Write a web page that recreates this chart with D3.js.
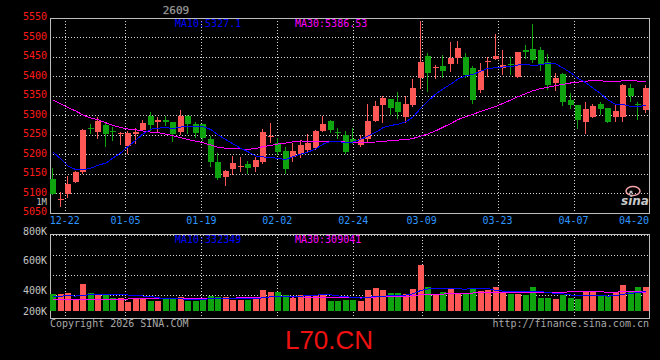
<!DOCTYPE html>
<html>
<head>
<meta charset="utf-8">
<script src="https://cdn.jsdelivr.net/npm/d3@7/dist/d3.min.js"></script>
<style>
html, body { margin: 0; padding: 0; background: #000; }
svg { display: block; }
text { font-family: "DejaVu Sans Mono", monospace; font-size: 10px; }
</style>
</head>
<body>
<div id="chart"></div>
<script>
// daily bars, 12-18 .. 04-21 (80 sessions)
const opens = [5138, 5085, 5100, 5131, 5157, 5269, 5259, 5276, 5261, 5253,
    5223, 5253, 5264, 5300, 5285, 5289, 5284, 5259, 5300, 5278,
    5278, 5241, 5182, 5144, 5164, 5170, 5177, 5169, 5182, 5248,
    5231, 5211, 5195, 5202, 5212, 5218, 5261, 5287, 5259, 5251,
    5241, 5226, 5241, 5287, 5328, 5343, 5335, 5298, 5328, 5396,
    5454, 5423, 5428, 5432, 5447, 5451, 5422, 5366, 5439, 5445,
    5422, 5433, 5400, 5469, 5471, 5469, 5439, 5385, 5406, 5340,
    5328, 5285, 5298, 5330, 5319, 5298, 5298, 5372, 5330, 5315];
const highs = [5166, 5105, 5146, 5158, 5265, 5279, 5296, 5283, 5271, 5258,
    5260, 5268, 5289, 5311, 5298, 5300, 5285, 5315, 5301, 5283,
    5280, 5248, 5204, 5160, 5198, 5194, 5184, 5195, 5266, 5281,
    5242, 5221, 5229, 5238, 5253, 5263, 5300, 5288, 5268, 5261,
    5269, 5251, 5330, 5338, 5352, 5344, 5360, 5351, 5394, 5543,
    5460, 5430, 5456, 5490, 5492, 5462, 5428, 5436, 5451, 5510,
    5469, 5451, 5463, 5481, 5535, 5476, 5458, 5411, 5409, 5358,
    5328, 5335, 5330, 5336, 5320, 5330, 5381, 5382, 5335, 5378];
const lows = [5099, 5070, 5092, 5129, 5154, 5257, 5244, 5223, 5238, 5228,
    5204, 5229, 5263, 5264, 5262, 5276, 5236, 5253, 5257, 5245,
    5238, 5172, 5137, 5123, 5150, 5158, 5153, 5158, 5179, 5234,
    5202, 5154, 5185, 5195, 5206, 5214, 5261, 5258, 5244, 5205,
    5229, 5222, 5234, 5286, 5283, 5304, 5294, 5285, 5326, 5372,
    5364, 5396, 5400, 5415, 5435, 5400, 5334, 5362, 5403, 5445,
    5406, 5406, 5400, 5447, 5439, 5417, 5370, 5366, 5328, 5321,
    5269, 5257, 5298, 5304, 5283, 5287, 5287, 5338, 5292, 5310];
const closes = [5100, 5087, 5125, 5157, 5264, 5266, 5287, 5253, 5259, 5255,
    5256, 5258, 5282, 5276, 5290, 5285, 5253, 5300, 5280, 5256,
    5244, 5182, 5141, 5158, 5179, 5172, 5167, 5187, 5258, 5249,
    5208, 5164, 5210, 5225, 5230, 5261, 5279, 5263, 5255, 5208,
    5230, 5241, 5287, 5325, 5346, 5319, 5310, 5330, 5372, 5439,
    5409, 5426, 5415, 5449, 5475, 5405, 5340, 5417, 5441, 5453,
    5430, 5431, 5463, 5464, 5443, 5430, 5379, 5398, 5335, 5328,
    5289, 5317, 5326, 5317, 5285, 5312, 5379, 5351, 5327, 5372];
const volumes = [285000, 286000, 307000, 201000, 452000, 296000, 268000, 267000, 223000, 224000,
    156000, 201000, 223000, 168000, 169000, 201000, 223000, 240000, 168000, 167000,
    223000, 251000, 240000, 241000, 184000, 185000, 184000, 201000, 352000, 313000,
    313000, 268000, 223000, 268000, 269000, 268000, 267000, 168000, 168000, 184000,
    184000, 168000, 352000, 390000, 352000, 296000, 296000, 280000, 369000, 771000,
    407000, 285000, 313000, 380000, 296000, 280000, 369000, 335000, 352000, 407000,
    323000, 280000, 281000, 268000, 407000, 213000, 223000, 201000, 268000, 213000,
    201000, 335000, 313000, 268000, 256000, 323000, 436000, 335000, 406000, 407000];

// moving averages before enough bars are in the window
const ma10Lead = [5207, 5189, 5171, 5162, 5161, 5166, 5173, 5179, 5192];
const ma30Lead = [5340, 5330, 5321, 5312, 5302, 5294, 5290, 5282, 5275, 5270,
    5266, 5264, 5261, 5258, 5257, 5253, 5249, 5244, 5239, 5235,
    5231, 5225, 5219, 5217, 5216, 5215, 5214, 5216, 5221];
const volMa10Lead = [251000, 251000, 252000, 251000, 260000, 276000, 280000, 276000, 276000];
const volMa30Lead = [189000, 189000, 190000, 189000, 190000, 191000, 190000, 192000, 200000, 201000,
    201000, 202000, 201000, 202000, 203000, 212000, 213000, 212000, 213000, 214000,
    213000, 214000, 213000, 214000, 215000, 222000, 223000, 223000, 224000];

const dateTicks = [2, 10, 20, 30, 40, 49, 59, 69, 78];
const dateLabels = ["12-22", "01-05", "01-19", "02-02", "02-24", "03-09", "03-23", "04-07", "04-20"];
const priceTicks = [5550, 5500, 5450, 5400, 5350, 5300, 5250, 5200, 5150, 5100, 5050];
const volTicks = [800000, 600000, 400000, 200000];
const priceMaLabels = ["MA10:5327.1", "MA30:5386.53"];
const volMaLabels = ["MA10:332349", "MA30:309041"];

const w = 660, h = 360;
const left = 50, right = 650;
const priceTop = 18.3, priceBottom = 213.3;
const volTop = 234, volBase = 311, volBottom = 318;

const upColor = "#ff5656", downColor = "#0fa30f";
const frameColor = "#bdbdbd", gridColor = "#d8d8d8";

const n = closes.length;
const x = d3.scaleBand().domain(d3.range(n)).range([left, right])
    .paddingInner(0.2).paddingOuter(0.1).align(0);
// date grid is laid out on n-1 steps, a hair wider than the bars
const gx = d3.scaleLinear().domain([0, n - 1]).range([left, right]);
const y = d3.scaleLinear().domain([5050, 5550]).range([priceBottom, priceTop]);
const yVol = d3.scaleLinear().domain([0, 1290000]).range([volBase, volTop]);
const yVolLabel = d3.scaleLinear().domain([400000, 800000]).range([290, 231]);

function movingAvg(values, k, lead) {
    return values.map(function (v, i) {
        if (i < k - 1) return lead[i];
        return d3.mean(values.slice(i - k + 1, i + 1));
    });
}

const ma10 = movingAvg(closes, 10, ma10Lead),
    ma30 = movingAvg(closes, 30, ma30Lead),
    volMa10 = movingAvg(volumes, 10, volMa10Lead),
    volMa30 = movingAvg(volumes, 30, volMa30Lead);

const crisp = v => Math.floor(v) + 0.5;
const bx = i => Math.round(x(i));
const isUp = i => closes[i] >= opens[i];

const svg = d3.select("#chart").append("svg")
    .attr("width", w)
    .attr("height", h)
    .style("background", "#000");

// ---- grid
const grid = svg.append("g")
    .attr("stroke", gridColor)
    .attr("stroke-dasharray", "1,2")
    .attr("shape-rendering", "crispEdges");

grid.selectAll("line.h")
    .data(priceTicks.slice(1, -1))
    .enter().append("line")
    .attr("x1", left).attr("x2", right - 1)
    .attr("y1", d => crisp(y(d))).attr("y2", d => crisp(y(d)));

grid.selectAll("line.vh")
    .data(d3.range(4))
    .enter().append("line")
    .attr("x1", left).attr("x2", right - 1)
    .attr("y1", d => volTop + 1.5 + d * 20).attr("y2", d => volTop + 1.5 + d * 20);

const gridTicks = dateTicks.filter(d => gx(d) < right - 20);
grid.selectAll("line.v")
    .data(gridTicks)
    .enter().append("line")
    .attr("x1", d => crisp(gx(d))).attr("x2", d => crisp(gx(d)))
    .attr("y1", priceTop).attr("y2", priceBottom);
grid.selectAll("line.vv")
    .data(gridTicks)
    .enter().append("line")
    .attr("x1", d => crisp(gx(d))).attr("x2", d => crisp(gx(d)))
    .attr("y1", volTop).attr("y2", volBottom);

// ---- frames
svg.append("rect")
    .attr("x", left + 0.5).attr("y", crisp(priceTop))
    .attr("width", right - left - 1).attr("height", Math.round(priceBottom - priceTop))
    .attr("fill", "none").attr("stroke", frameColor).attr("shape-rendering", "crispEdges");
svg.append("rect")
    .attr("x", left + 0.5).attr("y", volTop + 0.5)
    .attr("width", right - left - 1).attr("height", volBottom - volTop)
    .attr("fill", "none").attr("stroke", frameColor).attr("shape-rendering", "crispEdges");

// ---- candles
const candles = svg.append("g").attr("shape-rendering", "crispEdges");
const bars = candles.selectAll("g")
    .data(d3.range(n))
    .enter().append("g")
    .attr("fill", i => isUp(i) ? upColor : downColor)
    .attr("stroke", i => isUp(i) ? upColor : downColor);

bars.append("line")
    .attr("x1", i => bx(i) + 2.5).attr("x2", i => bx(i) + 2.5)
    .attr("y1", i => Math.round(y(highs[i])))
    .attr("y2", i => Math.round(y(lows[i])) + 1);

bars.append("rect")
    .attr("stroke", "none")
    .attr("x", i => bx(i))
    .attr("width", Math.round(x.bandwidth()))
    .attr("y", i => Math.round(y(Math.max(opens[i], closes[i]))))
    .attr("height", i => Math.max(1, Math.round(y(Math.min(opens[i], closes[i]))) - Math.round(y(Math.max(opens[i], closes[i])))));

// ---- volume bars
svg.append("g").attr("shape-rendering", "crispEdges")
    .selectAll("rect")
    .data(d3.range(n))
    .enter().append("rect")
    .attr("x", i => bx(i))
    .attr("width", Math.round(x.bandwidth()))
    .attr("y", i => Math.round(yVol(volumes[i])))
    .attr("height", i => volBase - Math.round(yVol(volumes[i])))
    .attr("fill", i => isUp(i) ? upColor : downColor);

// ---- moving average lines
function drawLine(values, scale, color) {
    svg.append("path")
        .datum(values)
        .attr("fill", "none")
        .attr("stroke", color)
        .attr("stroke-width", 1)
        .attr("shape-rendering", "crispEdges")
        .attr("d", d3.line()
            .x((d, i) => bx(i) + 3)
            .y(d => scale(d)));
}
drawLine(ma30, y, "#ff00ff");
drawLine(ma10, y, "#0000ff");
drawLine(volMa30, yVol, "#ff00ff");
drawLine(volMa10, yVol, "#0000ff");

// ---- labels
svg.append("g").selectAll("text")
    .data(priceTicks)
    .enter().append("text")
    .attr("x", 47).attr("y", d => y(d) + 2)
    .attr("text-anchor", "end")
    .attr("fill", "#ff1a1a")
    .text(d => d);

svg.append("g").selectAll("text")
    .data(volTicks)
    .enter().append("text")
    .attr("x", 47).attr("y", d => Math.min(yVolLabel(d), volBase) + 3.6)
    .attr("text-anchor", "end")
    .attr("fill", "#c4c4c4")
    .text(d => (d / 1000) + "K");

svg.append("text")
    .attr("x", 47).attr("y", 204.5)
    .attr("text-anchor", "end")
    .attr("fill", "#c4c4c4")
    .style("font-size", "9px")
    .text("1M");

svg.append("g").selectAll("text")
    .data(dateTicks)
    .enter().append("text")
    .attr("x", d => Math.min(gx(d) - 0.5, right - 1 - 15))
    .attr("y", 223.6)
    .attr("text-anchor", "middle")
    .attr("fill", "#2e96ff")
    .text((d, i) => dateLabels[i]);

const maColors = ["#0000ff", "#ff00ff"];
[175, 295].forEach(function (px, k) {
    svg.append("text").attr("x", px).attr("y", 27)
        .attr("fill", maColors[k]).text(priceMaLabels[k]);
    svg.append("text").attr("x", px).attr("y", 242.6)
        .attr("fill", maColors[k]).text(volMaLabels[k]);
});

svg.append("text")
    .attr("x", 176).attr("y", 14)
    .attr("text-anchor", "middle")
    .attr("fill", "#cfcfcf")
    .attr("stroke", "#555").attr("stroke-width", 0.4)
    .style("font-size", "11px")
    .text("2609");

// sina watermark
svg.append("ellipse")
    .attr("cx", 633).attr("cy", 191).attr("rx", 7).attr("ry", 4.5)
    .attr("fill", "none").attr("stroke", "#f2a3a8").attr("stroke-width", 1.5);
svg.append("circle")
    .attr("cx", 631).attr("cy", 192).attr("r", 1.6)
    .attr("fill", "#b9b9b9");
svg.append("text")
    .attr("x", 635).attr("y", 205)
    .attr("text-anchor", "middle")
    .attr("fill", "#c8c8c8")
    .style("font-family", "'DejaVu Sans', sans-serif")
    .style("font-size", "12px").style("font-style", "italic").style("font-weight", "bold")
    .text("sina");

svg.append("text")
    .attr("x", 50).attr("y", 327)
    .attr("fill", "#a8a8a8")
    .text("Copyright 2026 SINA.COM");
svg.append("text")
    .attr("x", 649).attr("y", 327)
    .attr("text-anchor", "end")
    .attr("fill", "#a8a8a8")
    .text("http://finance.sina.com.cn");

svg.append("text")
    .attr("x", 329).attr("y", 348.5)
    .attr("text-anchor", "middle")
    .attr("fill", "#ee1111")
    .style("font-family", "'Liberation Sans', Arial, sans-serif")
    .style("font-size", "26px")
    .text("L70.CN");
</script>
</body>
</html>
